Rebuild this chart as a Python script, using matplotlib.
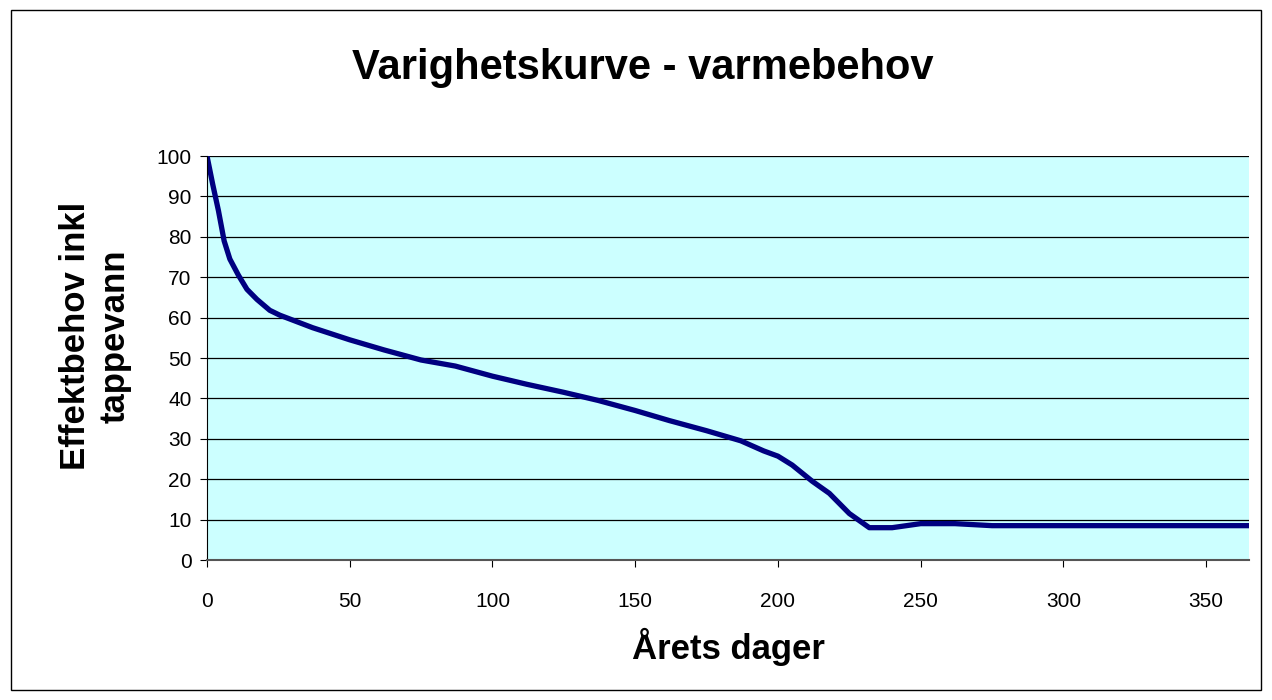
import matplotlib.pyplot as plt
from matplotlib.patches import Rectangle

plt.rcParams['font.family'] = ['Liberation Sans', 'DejaVu Sans']

# Values
days = [0, 2, 4, 6, 8, 11, 14, 17.5, 22, 25.5, 37, 50, 62, 75, 87, 100,
        112, 125, 137, 150, 162, 175, 187, 195, 200, 205, 212, 218, 225,
        232, 240, 250, 262, 275, 300, 325, 350, 365]
effekt = [100, 93, 86.5, 79, 74.5, 70.5, 67, 64.5, 61.8, 60.6, 57.5, 54.5,
          52, 49.5, 48, 45.5, 43.5, 41.5, 39.5, 37, 34.5, 32, 29.5, 27,
          25.7, 23.5, 19.5, 16.5, 11.5, 8, 8, 9, 9, 8.5, 8.5, 8.5, 8.5, 8.5]

x_ticks = [0, 50, 100, 150, 200, 250, 300, 350]
y_ticks = list(range(0, 101, 10))

fig = plt.figure(figsize=(12.72, 7), dpi=100)
ax = fig.add_axes([207 / 1272, 1 - 560 / 700, (1249 - 207) / 1272, (560 - 156) / 700])

fig.patches.append(Rectangle((11 / 1272, 10 / 700), 1250 / 1272, 680 / 700,
                             transform=fig.transFigure, fill=False,
                             edgecolor='black', linewidth=1))

ax.set_facecolor('#CCFFFF')
ax.plot(days, effekt, color='#000080', linewidth=3.8, solid_joinstyle='round')

ax.set_xlim(0, 365)
ax.set_ylim(0, 100)
ax.set_xticks(x_ticks)
ax.set_yticks(y_ticks)
ax.tick_params(axis='both', labelsize=15, direction='out', length=5, color='black')
ax.tick_params(axis='x', pad=18)
ax.tick_params(axis='y', pad=6)
ax.yaxis.grid(True, color='black', linewidth=0.9)
ax.set_axisbelow(True)

for s in ['top', 'right']:
    ax.spines[s].set_visible(False)
ax.spines['left'].set_color('black')
ax.spines['bottom'].set_color('#555555')
ax.spines['bottom'].set_linewidth(1.5)

ax.set_xlabel('Årets dager', fontsize=25, fontweight='bold', labelpad=12)
ax.set_ylabel('Effektbehov inkl\ntappevann', fontsize=25, fontweight='bold',
              linespacing=1.25)
ax.yaxis.set_label_coords(-0.072, 0.554)
fig.text(0.505, 1 - 68 / 700, 'Varighetskurve - varmebehov', ha='center', va='center',
         fontsize=30, fontweight='bold')

fig.savefig('out.png', dpi=100)
